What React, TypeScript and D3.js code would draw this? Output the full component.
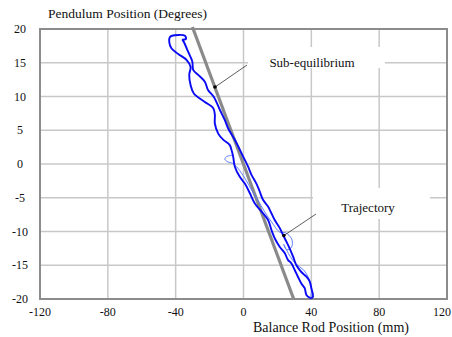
import React from "react";
import * as d3 from "d3";

const xTicks = [-120, -80, -40, 0, 40, 80, 120];
const yTicks = [20, 15, 10, 5, 0, -5, -10, -15, -20];

// Sub-equilibrium line endpoints (mm, degrees)
const subEqX = [-30.1, 29.6];
const subEqY = [20.3, -20];

// Main (thick) trajectory
const trajX = [39.0, 37.1, 36.1, 34.1, 32.1, 30.2, 28.2, 26.2, 24.3, 21.4, 18.4, 16.5, 14.5, 10.8, 6.6, 3.7, 0.8, -2.2, -5.1, -6.1, -7.1, -8.1, -12.0, -14.9, -16.9, -16.9, -17.9, -22.8, -29.2, -31.2, -32.0, -31.2, -33.5, -38.5, -42.4, -43.8, -43.4, -42.2, -34.5, -34.0, -35.9, -35.0, -32.6, -30.2, -29.6, -26.7, -22.8, -21.0, -17.4, -13.9, -11.0, -9.1, -4.5, -0.2, 2.7, 4.7, 7.6, 9.6, 11.5, 14.5, 15.5, 18.4, 21.4, 23.3, 25.3, 27.2, 29.2, 31.2, 34.1, 37.1, 39.0, 40.0, 40.9, 39.0];
const trajY = [-19.8, -19.4, -18.4, -17.7, -16.7, -15.7, -14.7, -14.2, -13.2, -12.3, -11.0, -9.8, -8.3, -7.1, -5.8, -4.3, -2.9, -1.9, -0.4, 1.1, 2.1, 2.8, 3.6, 4.5, 6.0, 7.3, 8.3, 9.2, 10.4, 11.7, 13.2, 14.4, 15.4, 16.3, 17.1, 18.1, 18.8, 19.0, 19.0, 18.5, 18.4, 18.0, 16.6, 15.2, 13.9, 13.2, 12.2, 11.0, 9.9, 8.0, 6.5, 5.3, 3.3, 1.1, -0.4, -1.6, -2.9, -4.1, -5.3, -6.3, -6.8, -8.3, -9.5, -10.5, -11.5, -12.5, -13.7, -15.0, -16.0, -16.7, -17.4, -18.4, -19.7, -19.9];

// Thin secondary trajectory
const thinX = [-6.1, -10.0, -11.0, -9.2, -6.3, -3.4, 0.8, 4.9, 8.4, 12.5, 16.6, 21.4, 24.9, 28.4, 28.4, 25.5, 23.7, 26.6, 30.8, 35.5, 38.4, 40.2, 39.6];
const thinY = [1.3, 1.1, 0.7, 0.3, 0.1, -0.6, -2.1, -3.9, -5.3, -7.1, -8.6, -10.1, -10.2, -11.1, -12.3, -12.7, -11.9, -13.3, -14.8, -15.7, -16.9, -18.4, -19.7];

const W = 452;
const H = 337;
const m = { left: 40, right: 447, top: 29, bottom: 299 };
const FONT = '"Liberation Serif", Tinos, "DejaVu Serif", "Times New Roman", serif';

export default function App() {
  const x = d3.scaleLinear().domain([-120, 120]).range([m.left, m.right]);
  const y = d3.scaleLinear().domain([-20, 20]).range([m.bottom, m.top]);

  const line = d3
    .line<[number, number]>()
    .x((d) => x(d[0]))
    .y((d) => y(d[1]))
    .curve(d3.curveCatmullRom.alpha(0.5));

  const traj = trajX.map((v, i) => [v, trajY[i]] as [number, number]);
  const thin = thinX.map((v, i) => [v, thinY[i]] as [number, number]);

  const subDot: [number, number] = [-16.8, 11.4];
  const trajDot: [number, number] = [23.8, -10.6];

  const txt = { fontFamily: FONT, fill: "#111" } as React.CSSProperties;

  return (
    <svg
      width={W}
      height={H}
      style={{ position: "absolute", left: 0, top: 0, background: "#fff", fontFamily: FONT }}
    >
      <rect x={0} y={0} width={W} height={H} fill="#fff" />
      {xTicks.map((t) => (
        <line key={"gx" + t} x1={x(t)} x2={x(t)} y1={m.top} y2={m.bottom} stroke="#c8c8c8" strokeWidth={1.5} />
      ))}
      {yTicks.map((t) => (
        <line key={"gy" + t} x1={m.left} x2={m.right} y1={y(t)} y2={y(t)} stroke="#c8c8c8" strokeWidth={1.5} />
      ))}
      <rect x={248} y={47} width={137} height={21} fill="#fff" />
      <rect x={313} y={188} width={117} height={31} fill="#fff" />
      <rect x={m.left} y={m.top} width={m.right - m.left} height={m.bottom - m.top} fill="none" stroke="#8c8c8c" strokeWidth={2} />
      <line x1={x(subEqX[0])} y1={y(subEqY[0])} x2={x(subEqX[1])} y2={y(subEqY[1])} stroke="#8a8a8a" strokeWidth={3.2} />
      <path d={line(thin) || ""} fill="none" stroke="#5470ff" strokeWidth={0.9} />
      <path d={line(traj) || ""} fill="none" stroke="#0a0af5" strokeWidth={1.9} strokeLinejoin="round" />
      <line x1={247} y1={65} x2={x(subDot[0])} y2={y(subDot[1])} stroke="#333" strokeWidth={0.8} />
      <circle cx={x(subDot[0])} cy={y(subDot[1])} r={1.8} fill="#000" />
      <text x={312} y={67} textAnchor="middle" fontSize={13} style={txt}>Sub-equilibrium</text>
      <line x1={316} y1={214} x2={x(trajDot[0])} y2={y(trajDot[1])} stroke="#333" strokeWidth={0.8} />
      <circle cx={x(trajDot[0])} cy={y(trajDot[1])} r={1.8} fill="#000" />
      <text x={368} y={212} textAnchor="middle" fontSize={13} style={txt}>Trajectory</text>
      {yTicks.map((t) => (
        <text key={"ty" + t} x={20} y={y(t) + 4} textAnchor="middle" fontSize={12} style={txt}>{t}</text>
      ))}
      {xTicks.map((t, i) => (
        <text
          key={"tx" + t}
          x={i === xTicks.length - 1 ? 451 : x(t)}
          y={316}
          textAnchor={i === xTicks.length - 1 ? "end" : "middle"}
          fontSize={12}
          style={txt}
        >
          {t}
        </text>
      ))}
      <text x={48} y={18} fontSize={13.5} style={txt}>Pendulum Position (Degrees)</text>
      <text x={331} y={332} textAnchor="middle" fontSize={14} style={txt}>Balance Rod Position (mm)</text>
    </svg>
  );
}
